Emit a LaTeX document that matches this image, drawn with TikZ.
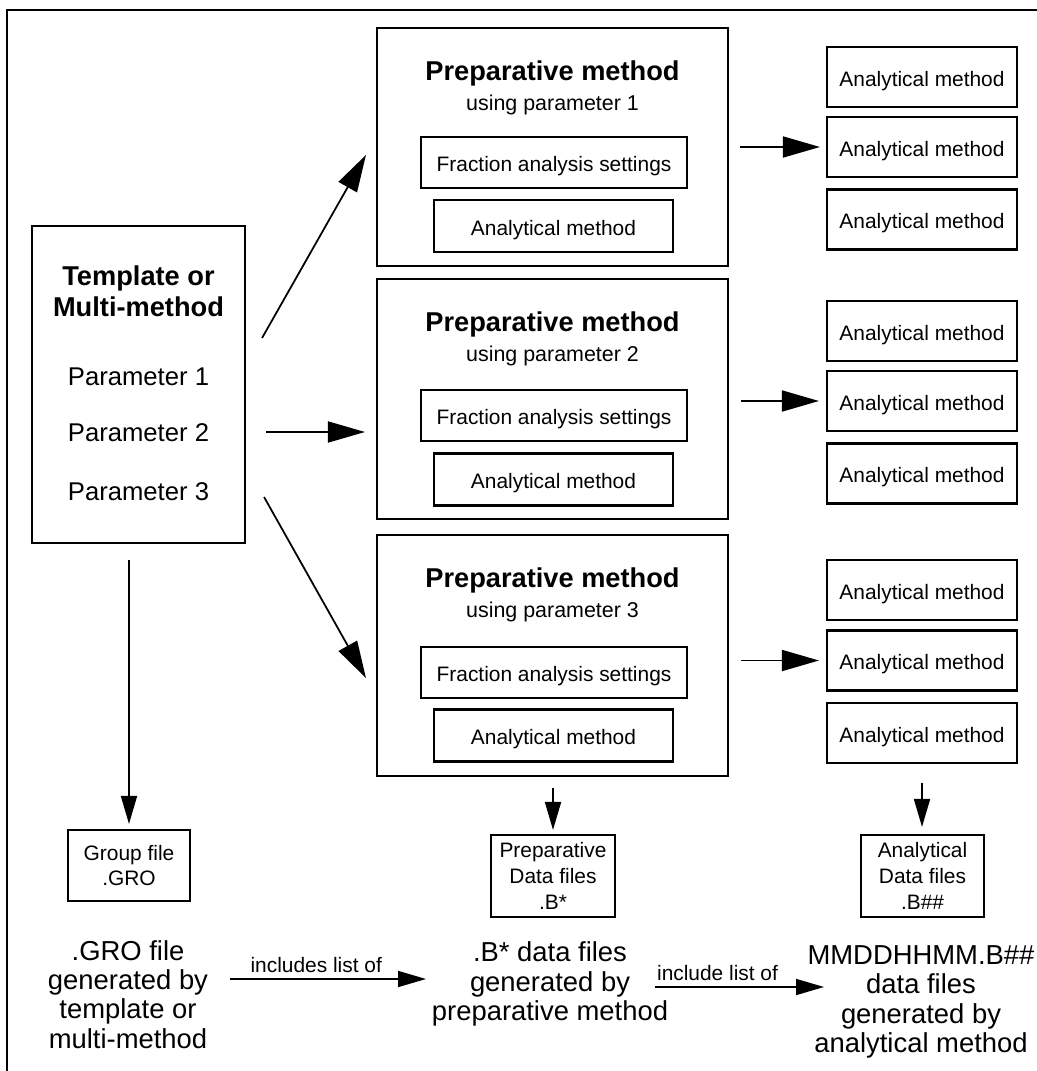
\documentclass[tikz,border=0pt]{standalone}
\usepackage{fontspec}
\setmainfont{Liberation Sans}
\usetikzlibrary{arrows.meta,calc,positioning}

\begin{document}
\begin{tikzpicture}[x=0.02cm, y=-0.02cm,
        frame/.style={line width=1.6pt},
        box/.style={draw, line width=1.2pt, inner sep=0pt, align=center},
        sz/.style 2 args={minimum width=#1*0.02cm, minimum height=#2*0.02cm},
        methbox/.style={box, font=\fontsize{11.9}{14.8}\selectfont, text height=1.2em, text depth=0.15em},
        filebox/.style={box, font=\fontsize{11.9}{14.6}\selectfont},
        headtext/.style={font=\bfseries\fontsize{15.5}{17.6}\selectfont},
        paramtext/.style={font=\fontsize{14.6}{17}\selectfont},
        usetext/.style={font=\fontsize{12.2}{14}\selectfont},
        bigtext/.style={font=\fontsize{15.6}{16.7}\selectfont, align=center, inner sep=0pt},
        labeltext/.style={font=\fontsize{11.9}{14}\selectfont},
        bigarrow/.style={line width=1pt, -{Triangle[length=0.74cm, width=0.42cm]}},
        smallarrow/.style={line width=1pt, -{Triangle[length=0.56cm, width=0.32cm]}}]
    \useasboundingbox (0,0) rectangle (1036,1071);
    \draw[frame] (7,10) rectangle (1045,1080);
    \begin{scope}[node distance=0.5cm]
        \node[name=tmpl, box, sz={213}{317}] at (138.5,384.5) (tmpl) {};
        \node[name=t1, headtext, anchor=base] at (138.5,285) (t1) {Template or};
        \node[name=t2, headtext, anchor=base] at (138.5,316) (t2) {Multi-method};
        \node[name=par1, paramtext, anchor=base] at (138.5,385) (par1) {Parameter 1};
        \node[name=par2, paramtext, anchor=base] at (138.5,441) (par2) {Parameter 2};
        \node[name=par3, paramtext, anchor=base] at (138.5,500) (par3) {Parameter 3};

        \node[name=prep1, box, sz={351}{238}] at (552.5,147) (prep1) {};
        \node[name=head1, headtext, anchor=base] at (552.5,80.5) (head1) {Preparative method};
        \node[name=use1, usetext, anchor=base] at (552.5,110.5) (use1) {using parameter 1};
        \node[name=frac1, methbox, sz={266}{51}] at (554,162.5) (frac1) {Fraction analysis settings};
        \node[name=anl1, methbox, sz={239}{52}] at (553.5,226) (anl1) {Analytical method};

        \node[name=prep2, box, sz={351}{240}] at (552.5,399) (prep2) {};
        \node[name=head2, headtext, anchor=base] at (552.5,331.5) (head2) {Preparative method};
        \node[name=use2, usetext, anchor=base] at (552.5,361.5) (use2) {using parameter 2};
        \node[name=frac2, methbox, sz={266}{51}] at (554,415.5) (frac2) {Fraction analysis settings};
        \node[name=anl2, methbox, sz={239}{52}] at (553.5,479.5) (anl2) {Analytical method};

        \node[name=prep3, box, sz={351}{241}] at (552.5,655.5) (prep3) {};
        \node[name=head3, headtext, anchor=base] at (552.5,587.5) (head3) {Preparative method};
        \node[name=use3, usetext, anchor=base] at (552.5,617.5) (use3) {using parameter 3};
        \node[name=frac3, methbox, sz={266}{51}] at (554,672.5) (frac3) {Fraction analysis settings};
        \node[name=anl3, methbox, sz={239}{52}] at (553.5,735.5) (anl3) {Analytical method};

        \node[name=ana11, methbox, sz={190}{60}] at (922,77) (ana11) {Analytical method};
        \node[name=ana12, methbox, sz={190}{60}] at (922,147) (ana12) {Analytical method};
        \node[name=ana13, methbox, sz={190}{60}] at (922,219.5) (ana13) {Analytical method};
        \node[name=ana21, methbox, sz={190}{60}] at (922,331) (ana21) {Analytical method};
        \node[name=ana22, methbox, sz={190}{60}] at (922,401) (ana22) {Analytical method};
        \node[name=ana23, methbox, sz={190}{60}] at (922,473.5) (ana23) {Analytical method};
        \node[name=ana31, methbox, sz={190}{60}] at (922,590) (ana31) {Analytical method};
        \node[name=ana32, methbox, sz={190}{60}] at (922,660.5) (ana32) {Analytical method};
        \node[name=ana33, methbox, sz={190}{60}] at (922,733) (ana33) {Analytical method};

        \node[name=grp, filebox, sz={122}{71}] at (129,865.5) (grp) {Group file\\.GRO};
        \node[name=pdat, filebox, sz={124}{82}] at (553,876) (pdat) {Preparative\\Data files\\.B*};
        \node[name=adat, filebox, sz={123}{82}] at (922.5,876) (adat) {Analytical\\Data files\\.B\#\#};

        \node[name=gro, bigtext] at (128,994.5) (gro) {.GRO file\\generated by\\template or\\multi-method};
        \node[name=bst, bigtext] at (550,984) (bst) {.B* data files\\generated by\\preparative method};
        \node[name=mmdd, bigtext] at (921,1002) (mmdd) {MMDDHHMM.B\#\#\\data files\\generated by\\analytical method};

        \draw[bigarrow] ($(tmpl.east)+(16,-46.5)$) -- ($(prep1.west)+(-10,8)$);
        \draw[bigarrow] ($(tmpl.east)+(20,47.5)$) -- ($(prep2.west)+(-11,33)$);
        \draw[bigarrow] ($(tmpl.east)+(18,112.5)$) -- ($(prep3.west)+(-10,22.5)$);
        \draw[bigarrow, shorten <=0.22cm, shorten >=0.12cm] (prep1.east |- ana12.west) -- (ana12.west);
        \draw[bigarrow, shorten <=0.24cm, shorten >=0.14cm] (prep2.east |- ana22.west) -- (ana22.west);
        \draw[bigarrow, shorten <=0.24cm, shorten >=0.14cm] (prep3.east |- ana32.west) -- (ana32.west);
        \draw[smallarrow, shorten <=0.32cm, shorten >=0.1cm] (tmpl.south -| grp.north) -- (grp.north);
        \draw[smallarrow, shorten <=0.22cm, shorten >=0.08cm] (prep3.south -| pdat.north) -- (pdat.north);
        \draw[smallarrow, shorten <=0.38cm, shorten >=0.14cm] (ana33.south) -- (ana33.south |- adat.north);
        \draw[smallarrow] ($(gro.center)+(102,-15.5)$) -- node[name=inc1, labeltext, above, pos=0.44] (inc1) {includes list of} ($(bst.center)+(-124,-5)$);
        \draw[smallarrow] ($(bst.center)+(105,3)$) -- node[name=inc2, labeltext, above, pos=0.37] (inc2) {include list of} ($(mmdd.center)+(-97,-15)$);
    \end{scope}
\end{tikzpicture}
\end{document}
